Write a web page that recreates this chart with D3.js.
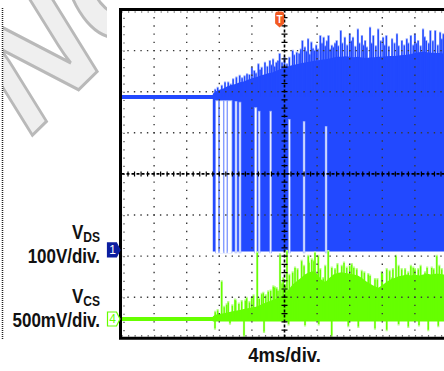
<!DOCTYPE html>
<html><head><meta charset="utf-8">
<script src="https://cdn.jsdelivr.net/npm/d3@7"></script>
<style>html,body{margin:0;padding:0;background:#fff;}svg{display:block;}</style>
</head><body>
<svg id="c" width="444" height="371"></svg>
<script>
// Scope screen: 10 horizontal divisions x 4 ms, 8 vertical divisions
const timeDomain = [0, 40];            // ms
const vdsDomain = [-215, 585];         // V, 100 V/div, ground marker 2.15 div above bottom
const vcsDomain = [-0.235, 3.765];     // V, 500 mV/div
const hDivs = 10, vDivs = 8;

// Drain-source voltage
const vdsIdleLevel = 372;
const switchStart = 11.2;
const vdsEnvelope = [[11.2,380],[11.6,386],[12.0,390],[12.5,393],[13.0,398],[13.5,401],[14.0,404],[14.5,408],[15.0,410],[15.5,414],[16.0,418],[16.5,420],[17.0,424],[17.5,427],[18.0,430],[18.5,432],[19.0,436],[19.5,440],[20.0,444],[20.5,447],[21.0,450],[21.5,452],[22.0,454],[22.5,456],[23.0,458],[23.5,460],[24.0,461],[24.5,463],[25.0,464],[25.5,466],[26.0,468],[26.5,470],[27.0,470],[27.5,471],[28.0,470],[28.5,469],[29.0,470],[29.5,468],[30.0,467],[30.5,468],[31.0,469],[31.5,470],[32.0,470],[32.5,471],[33.0,472],[33.5,472],[34.0,473],[34.5,474],[35.0,475],[35.5,477],[36.0,479],[36.5,481],[37.0,482],[37.5,481],[38.0,480],[38.5,479],[39.0,479],[39.5,478],[40.0,478]];
const vdsSpikes = [[11.5,392],[11.8,397],[12.3,402],[12.7,410],[13.1,410],[13.4,405],[13.7,418],[14.1,422],[14.5,426],[14.8,420],[15.1,425],[15.4,430],[15.7,428],[16.0,446],[16.3,438],[16.5,432],[16.8,454],[17.0,440],[17.2,446],[17.6,458],[17.9,448],[18.2,462],[18.4,452],[18.6,466],[18.8,448],[19.0,458],[19.2,462],[19.4,479],[19.7,458],[20.0,470],[20.3,454],[20.6,470],[21.0,487],[21.2,476],[21.5,482],[21.8,480],[22.0,490],[22.2,511],[22.5,495],[22.7,485],[22.9,515],[23.1,478],[23.3,507],[23.5,492],[23.7,487],[23.9,500],[24.1,490],[24.4,523],[24.6,505],[24.8,519],[25.0,498],[25.2,510],[25.4,523],[25.6,490],[25.8,499],[26.0,495],[26.2,505],[26.4,511],[26.6,498],[26.9,535],[27.1,505],[27.4,519],[27.7,500],[28.0,527],[28.2,510],[28.4,519],[28.7,497],[29.0,539],[29.2,505],[29.5,523],[29.7,500],[29.9,511],[30.1,495],[30.5,543],[30.7,505],[30.9,523],[31.2,498],[31.5,539],[31.8,510],[32.1,519],[32.3,500],[32.5,523],[32.8,497],[33.2,515],[33.5,505],[33.8,527],[34.0,498],[34.4,511],[34.7,500],[35.0,515],[35.2,505],[35.5,523],[35.8,500],[36.0,527],[36.2,505],[36.4,511],[36.7,498],[37.0,539],[37.2,520],[37.4,511],[37.7,505],[37.9,535],[38.2,510],[38.5,535],[38.8,500],[39.1,531],[39.3,515],[39.5,527],[39.8,505]];
// off-time gaps during start-up: [start ms, end ms, top of gap V]
const vdsGaps = [[11.60,11.84,362],[12.09,12.45,362],[12.64,12.88,362],[13.07,13.50,362],[13.99,14.11,360],[14.48,14.60,358],[16.38,16.55,345],[16.85,16.95,336],[18.25,18.35,336],[20.55,20.65,316],[22.35,22.45,311],[25.05,25.15,299]];

// Current-sense voltage
const vcsEnvelope = [[11.2,0.03],[11.5,0.05],[12.0,0.06],[12.5,0.07],[13.0,0.08],[13.5,0.09],[14.0,0.10],[14.5,0.11],[15.0,0.12],[15.5,0.13],[16.0,0.14],[16.5,0.15],[17.0,0.17],[17.5,0.19],[18.0,0.21],[18.5,0.23],[19.0,0.25],[19.5,0.27],[20.0,0.30],[20.5,0.36],[21.0,0.42],[21.5,0.46],[22.0,0.50],[22.5,0.54],[23.0,0.57],[23.5,0.58],[24.0,0.55],[24.5,0.48],[25.0,0.45],[25.5,0.50],[26.0,0.54],[26.5,0.56],[27.0,0.57],[27.5,0.56],[28.0,0.55],[28.5,0.54],[29.0,0.53],[29.5,0.50],[30.0,0.46],[30.5,0.43],[31.0,0.40],[31.5,0.38],[32.0,0.41],[32.5,0.45],[33.0,0.48],[33.5,0.50],[34.0,0.52],[34.5,0.53],[35.0,0.54],[35.5,0.53],[36.0,0.54],[36.5,0.53],[37.0,0.54],[37.5,0.55],[38.0,0.54],[38.5,0.55],[39.0,0.55],[39.5,0.54],[40.0,0.54]];
const vcsSpikes = [[11.5,0.10],[11.8,0.12],[12.29,0.47],[12.6,0.16],[12.9,0.19],[13.1,0.22],[13.6,0.18],[13.93,0.25],[14.0,0.24],[14.4,0.20],[14.75,0.23],[15.2,0.24],[15.36,0.27],[15.7,0.22],[15.98,0.27],[16.2,0.30],[16.66,0.82],[16.9,0.26],[17.2,0.32],[17.4,0.33],[17.7,0.30],[18.01,0.35],[18.3,0.36],[18.63,0.41],[18.8,0.40],[19.04,0.39],[19.2,0.36],[19.45,0.80],[19.7,0.45],[19.85,0.51],[20.1,0.42],[20.3,0.84],[20.6,0.55],[21.0,0.58],[21.29,0.64],[21.6,0.62],[22.1,0.72],[22.4,0.66],[22.92,0.78],[23.0,0.70],[23.34,0.74],[23.6,0.72],[23.74,0.82],[24.15,0.78],[24.4,0.62],[24.76,0.51],[25.0,0.66],[25.37,0.84],[25.8,0.64],[26.2,0.62],[26.5,0.68],[27.02,0.66],[27.3,0.70],[27.63,0.64],[28.0,0.66],[28.25,0.68],[28.5,0.64],[28.86,0.62],[29.47,0.60],[29.8,0.58],[30.28,0.56],[30.5,0.54],[31.1,0.50],[31.4,0.50],[31.93,0.58],[32.0,0.56],[32.54,0.62],[32.9,0.60],[33.15,0.51],[33.3,0.62],[33.68,0.78],[34.0,0.66],[34.38,0.62],[34.8,0.62],[35.19,0.58],[35.5,0.66],[35.8,0.64],[36.0,0.62],[36.42,0.62],[36.7,0.66],[37.24,0.58],[37.5,0.64],[38.06,0.64],[38.3,0.62],[38.68,0.78],[39.0,0.66],[39.29,0.62],[39.7,0.64]];
const vcsDips = [[11.47,-0.13],[13.31,-0.07],[15.03,-0.22],[17.49,-0.17],[20.5,-0.08],[22.52,-0.09],[24.2,-0.08],[25.79,-0.22],[27.83,-0.10],[29.06,-0.11],[31.1,-0.13],[32.54,-0.15],[34.0,-0.08],[35.19,-0.11],[36.5,-0.09],[37.64,-0.15],[38.87,-0.10]];

const triggerTime = 19.4;
const channelLabels = [
  {name: "V", sub: "DS", scale: "100V/div."},
  {name: "V", sub: "CS", scale: "500mV/div."}
];
const timeLabel = "4ms/div.";
const watermarkText = "NO";

const BLUE = "#2249ff", BLUE_LIGHT = "#9aaeff", NAVY = "#0c1ea0";
const GREEN = "#66ff00", GREEN_LIGHT = "#b9ff8a";
const FONT = "'Liberation Sans', Arial, sans-serif";

const svg = d3.select("#c");
const pLeft = 121.5, pRight = 447.5, pTop = 9.5, pBottom = 338.3;
const x = d3.scaleLinear().domain(timeDomain).range([pLeft, pRight]);
const yDS = d3.scaleLinear().domain(vdsDomain).range([pBottom, pTop]);
const yCS = d3.scaleLinear().domain(vcsDomain).range([pBottom, pTop]);

svg.append("rect").attr("width", 444).attr("height", 371).attr("fill", "#fff");

// watermark, squeezed like the rest of the capture
const defs = svg.append("defs");
defs.append("clipPath").attr("id", "wm").append("rect")
  .attr("x", 3).attr("y", 0).attr("width", 104).attr("height", 371);
defs.append("clipPath").attr("id", "plot").append("rect")
  .attr("x", pLeft).attr("y", pTop).attr("width", pRight - pLeft).attr("height", pBottom - pTop);

svg.append("g").attr("clip-path", "url(#wm)")
  .append("g").attr("transform", "scale(1,1.26) translate(25,113) rotate(-38)")
  .append("text").text(watermarkText)
  .attr("font-family", FONT).attr("font-weight", "bold").attr("font-size", 140)
  .attr("fill", "#efefef").attr("stroke", "#b9b9b9").attr("stroke-width", 2.6);

// left dotted edge
svg.append("line").attr("x1", 2.5).attr("x2", 2.5).attr("y1", 8).attr("y2", 340)
  .attr("stroke", "#222").attr("stroke-width", 1.5).attr("stroke-dasharray", "1,1");

const plot = svg.append("g").attr("clip-path", "url(#plot)");

// ---- VDS trace ----
plot.append("line")
  .attr("x1", x(timeDomain[0])).attr("x2", x(switchStart + 0.1))
  .attr("y1", yDS(vdsIdleLevel)).attr("y2", yDS(vdsIdleLevel))
  .attr("stroke", BLUE).attr("stroke-width", 4);

// pale edges of the switching spikes sit behind the dense body
plot.selectAll(".vdsHalo").data(vdsSpikes).join("line")
  .attr("x1", d => x(d[0])).attr("x2", d => x(d[0]))
  .attr("y1", yDS(vdsIdleLevel)).attr("y2", d => yDS(d[1]))
  .attr("stroke", BLUE_LIGHT).attr("stroke-width", 2.2);

const vdsArea = d3.area().x(d => x(d[0])).y0(yDS(-4)).y1(d => yDS(d[1]));
plot.append("path").datum(vdsEnvelope).attr("d", vdsArea).attr("fill", BLUE);

plot.selectAll(".vdsSpike").data(vdsSpikes).join("line")
  .attr("x1", d => x(d[0])).attr("x2", d => x(d[0]))
  .attr("y1", yDS(vdsIdleLevel)).attr("y2", d => yDS(d[1]) + 1)
  .attr("stroke", BLUE).attr("stroke-width", 1.4);

plot.selectAll(".gapEdge").data(vdsGaps).join("rect")
  .attr("x", d => x(d[0]) - 0.8).attr("width", d => x(d[1]) - x(d[0]) + 1.6)
  .attr("y", d => yDS(d[2]) - 1).attr("height", d => yDS(-8) - yDS(d[2]) + 1)
  .attr("fill", BLUE_LIGHT);
plot.selectAll(".gap").data(vdsGaps).join("rect")
  .attr("x", d => x(d[0])).attr("width", d => Math.max(0.8, x(d[1]) - x(d[0])))
  .attr("y", d => yDS(d[2])).attr("height", d => yDS(-8) - yDS(d[2]))
  .attr("fill", "#fff");

// ---- VCS trace ----
plot.append("line")
  .attr("x1", x(timeDomain[0])).attr("x2", x(timeDomain[1]))
  .attr("y1", yCS(0)).attr("y2", yCS(0))
  .attr("stroke", GREEN).attr("stroke-width", 4);

const vcsAll = vcsSpikes.concat(vcsDips);
plot.selectAll(".vcsHalo").data(vcsAll).join("line")
  .attr("x1", d => x(d[0])).attr("x2", d => x(d[0]))
  .attr("y1", yCS(0)).attr("y2", d => yCS(d[1]))
  .attr("stroke", GREEN_LIGHT).attr("stroke-width", 2.2);

const vcsArea = d3.area().x(d => x(d[0])).y0(yCS(-0.03)).y1(d => yCS(d[1]));
plot.append("path").datum(vcsEnvelope).attr("d", vcsArea).attr("fill", GREEN);

plot.selectAll(".vcsSpike").data(vcsAll).join("line")
  .attr("x1", d => x(d[0])).attr("x2", d => x(d[0]))
  .attr("y1", yCS(0)).attr("y2", d => yCS(d[1]) + (d[1] > 0 ? 1.5 : -1.5))
  .attr("stroke", GREEN).attr("stroke-width", 1.4);

// ---- graticule ----
const dx = (pRight - pLeft) / hDivs, dy = (pBottom - pTop) / vDivs;
const grid = svg.append("g").attr("clip-path", "url(#plot)");
d3.range(1, vDivs).forEach(i => {
  if (i === vDivs / 2) return;
  grid.append("line").attr("x1", pLeft).attr("x2", pRight)
    .attr("y1", pTop + i * dy).attr("y2", pTop + i * dy)
    .attr("stroke", "#3a3a3a").attr("stroke-width", 1.4)
    .attr("stroke-dasharray", `1.4,${dx / 5 - 1.4}`).attr("stroke-dashoffset", 0.7);
});
d3.range(1, hDivs).forEach(i => {
  if (i === hDivs / 2) return;
  grid.append("line").attr("y1", pTop).attr("y2", pBottom)
    .attr("x1", pLeft + i * dx).attr("x2", pLeft + i * dx)
    .attr("stroke", "#3a3a3a").attr("stroke-width", 1.4)
    .attr("stroke-dasharray", `1.4,${dy / 5 - 1.4}`).attr("stroke-dashoffset", 0.7);
});
// dots along the frame edges
grid.append("line").attr("x1", pLeft + 2.5).attr("x2", pLeft + 2.5).attr("y1", pTop).attr("y2", pBottom)
  .attr("stroke", "#3a3a3a").attr("stroke-width", 1.2).attr("stroke-dasharray", `1.2,${dy / 5 - 1.2}`);
grid.append("line").attr("y1", pTop + 2.5).attr("y2", pTop + 2.5).attr("x1", pLeft).attr("x2", pRight)
  .attr("stroke", "#3a3a3a").attr("stroke-width", 1.2).attr("stroke-dasharray", `1.2,${dx / 5 - 1.2}`);
grid.append("line").attr("y1", pBottom - 2.5).attr("y2", pBottom - 2.5).attr("x1", pLeft).attr("x2", pRight)
  .attr("stroke", "#3a3a3a").attr("stroke-width", 1.2).attr("stroke-dasharray", `1.2,${dx / 5 - 1.2}`);

// centre crosshair with minor ticks
const cx = pLeft + 5 * dx, cy = pTop + 4 * dy;
grid.append("line").attr("x1", cx).attr("x2", cx).attr("y1", pTop).attr("y2", pBottom)
  .attr("stroke", "#000").attr("stroke-width", 1.6).attr("stroke-dasharray", "3,2");
grid.append("line").attr("y1", cy).attr("y2", cy).attr("x1", pLeft).attr("x2", pRight)
  .attr("stroke", "#000").attr("stroke-width", 1.6).attr("stroke-dasharray", "3,2");
grid.selectAll(".vt").data(d3.range(1, vDivs * 5)).join("line")
  .attr("x1", cx - 3).attr("x2", cx + 3)
  .attr("y1", i => pTop + i * dy / 5).attr("y2", i => pTop + i * dy / 5)
  .attr("stroke", "#000").attr("stroke-width", 1.2);
grid.selectAll(".ht").data(d3.range(1, hDivs * 5)).join("line")
  .attr("y1", cy - 2.5).attr("y2", cy + 2.5)
  .attr("x1", i => pLeft + i * dx / 5).attr("x2", i => pLeft + i * dx / 5)
  .attr("stroke", "#000").attr("stroke-width", 1.2);

// frame
svg.append("path")
  .attr("d", `M${pRight + 10},${pTop} H${pLeft - 1} V${pBottom} H${pRight + 10}`)
  .attr("fill", "none").attr("stroke", "#000").attr("stroke-width", 3);

// trigger marker
const tx = x(triggerTime);
svg.append("path")
  .attr("d", `M${tx - 4.5},${pTop + 5} Q${tx - 4.5},${pTop + 2} ${tx - 2},${pTop + 2} H${tx + 2} Q${tx + 4.5},${pTop + 2} ${tx + 4.5},${pTop + 5} V${pTop + 14} L${tx},${pTop + 18} L${tx - 4.5},${pTop + 14} Z`)
  .attr("fill", "#f25a22");
svg.append("text").attr("x", tx).attr("y", pTop + 13).attr("text-anchor", "middle")
  .attr("font-family", FONT).attr("font-weight", "bold").attr("font-size", 10)
  .attr("fill", "#fff").text("T");

// channel ground markers
function marker(yv, num, filled) {
  const m = svg.append("g").attr("transform", `translate(${pLeft - 14},${yv})`);
  m.append("path").attr("d", "M0,-7 H9 L12.5,0 L9,7 H0 Z")
    .attr("fill", filled ? NAVY : "#fff").attr("stroke", filled ? NAVY : GREEN).attr("stroke-width", 1.2);
  m.append("text").attr("x", 5).attr("y", 4.5).attr("text-anchor", "middle")
    .attr("font-family", FONT).attr("font-size", 12)
    .attr("fill", filled ? "#fff" : GREEN).text(num);
}
marker(yDS(0), "1", true);
marker(yCS(0), "4", false);

// channel labels
function chanLabel(lab, yName, yScale) {
  const t = svg.append("g").attr("transform", `translate(100,${yName}) scale(1,1.15)`)
    .append("text").attr("text-anchor", "end")
    .attr("font-family", FONT).attr("font-weight", "bold").attr("font-size", 17).attr("fill", "#111");
  t.append("tspan").text(lab.name);
  t.append("tspan").attr("font-size", 12).attr("dy", 3).text(lab.sub);
  svg.append("g").attr("transform", `translate(100,${yScale}) scale(1,1.15)`)
    .append("text").attr("text-anchor", "end")
    .attr("font-family", FONT).attr("font-weight", "bold").attr("font-size", 17).attr("fill", "#111")
    .text(lab.scale);
}
chanLabel(channelLabels[0], 238.5, 263);
chanLabel(channelLabels[1], 303, 327);

svg.append("g").attr("transform", `translate(${cx},362) scale(1,1.1)`)
  .append("text").attr("text-anchor", "middle")
  .attr("font-family", FONT).attr("font-weight", "bold").attr("font-size", 18.5).attr("fill", "#111")
  .text(timeLabel);
</script>
</body></html>
